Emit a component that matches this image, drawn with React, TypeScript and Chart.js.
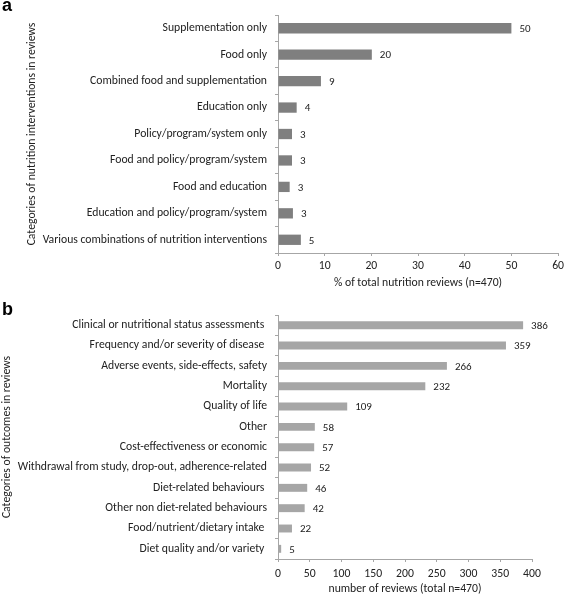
import React, { useEffect, useRef } from "react";
import { Chart, registerables } from "chart.js";

Chart.register(...registerables);

const categoriesA = [
  "Supplementation only",
  "Food only",
  "Combined food and supplementation",
  "Education only",
  "Policy/program/system only",
  "Food and policy/program/system",
  "Food and education",
  "Education and policy/program/system",
  "Various combinations of nutrition interventions",
];
const valuesA = [50, 20.1, 9.2, 4, 3, 3, 2.5, 3.2, 4.9];
const valueLabelsA = ["50", "20", "9", "4", "3", "3", "3", "3", "5"];

const categoriesB = [
  "Clinical or nutritional status assessments ",
  "Frequency and/or severity of disease ",
  "Adverse events, side-effects, safety",
  "Mortality",
  "Quality of life",
  "Other",
  "Cost-effectiveness or economic",
  "Withdrawal from study, drop-out, adherence-related",
  "Diet-related behaviours ",
  "Other non diet-related behaviours",
  "Food/nutrient/dietary intake ",
  "Diet quality and/or variety ",
];
const valuesB = [386, 359, 266, 232, 109, 58, 57, 52, 46, 42, 22, 5];
const valueLabelsB = valuesB.map((v) => String(v));

const FONT = "Carlito, Lato, 'Open Sans', sans-serif";
const FS = 11.7;
const AXIS_GRAY = "#a6a6a6";
const TEXT = "#222222";

type PanelProps = {
  width: number;
  height: number;
  categories: string[];
  values: number[];
  valueLabels: string[];
  color: string;
  xMax: number;
  xStep: number;
  xTitle: string;
  yTitle: string;
  padTop: number;
  padRight: number;
  yAxisWidth: number;
  xAxisHeight: number;
  yTitlePad: number;
  xTitlePad: number;
  xTickPad: number;
  barPct: number;
};

function Panel(p: PanelProps) {
  const ref = useRef<HTMLCanvasElement | null>(null);
  useEffect(() => {
    if (!ref.current) return;
    const labelPlugin = {
      id: "valueLabels",
      afterDatasetsDraw(chart: any) {
        const ctx = chart.ctx;
        const meta = chart.getDatasetMeta(0);
        ctx.save();
        ctx.font = `11px ${FONT}`;
        ctx.fillStyle = TEXT;
        ctx.textAlign = "left";
        ctx.textBaseline = "middle";
        meta.data.forEach((el: any, i: number) => {
          ctx.fillText(p.valueLabels[i], el.x + 8, el.y + 1);
        });
        ctx.restore();
      },
    };
    const chart = new Chart(ref.current, {
      type: "bar",
      data: {
        labels: p.categories,
        datasets: [
          {
            data: p.values,
            backgroundColor: p.color,
            borderWidth: 0,
            barPercentage: p.barPct,
            categoryPercentage: 1,
          },
        ],
      },
      options: {
        indexAxis: "y",
        responsive: false,
        animation: false,
        layout: { padding: { top: p.padTop, right: p.padRight, left: 0, bottom: 0 } },
        plugins: { legend: { display: false }, tooltip: { enabled: false } },
        scales: {
          x: {
            min: 0,
            max: p.xMax,
            ticks: { stepSize: p.xStep, color: TEXT, font: { family: FONT, size: FS }, padding: p.xTickPad },
            grid: { drawOnChartArea: false, drawTicks: true, tickLength: 3, color: AXIS_GRAY },
            border: { display: true, color: AXIS_GRAY },
            title: {
              display: true,
              text: p.xTitle,
              color: TEXT,
              font: { family: FONT, size: FS },
              padding: { top: 0, bottom: p.xTitlePad },
            },
            afterFit: (scale: any) => {
              scale.height = p.xAxisHeight;
            },
          },
          y: {
            ticks: { color: TEXT, font: { family: FONT, size: FS }, padding: 8, autoSkip: false },
            grid: { drawOnChartArea: false, drawTicks: true, tickLength: 3, color: AXIS_GRAY, offset: true },
            border: { display: true, color: AXIS_GRAY },
            title: {
              display: true,
              text: p.yTitle,
              color: TEXT,
              font: { family: FONT, size: FS },
              padding: { top: p.yTitlePad, bottom: 0 },
            },
            afterFit: (scale: any) => {
              scale.width = p.yAxisWidth;
            },
          },
        },
      } as any,
      plugins: [labelPlugin],
    });
    return () => chart.destroy();
  }, []);
  return <canvas ref={ref} width={p.width} height={p.height} style={{ display: "block" }} />;
}

export default function App() {
  const letterStyle: React.CSSProperties = {
    position: "absolute",
    left: 2,
    fontFamily: "'Liberation Sans', Arial, sans-serif",
    fontWeight: "bold",
    fontSize: 18,
    lineHeight: "18px",
    color: "#000",
  };
  return (
    <div style={{ position: "absolute", left: 0, top: 0, width: 567, height: 597, background: "#fff" }}>
      <div style={{ position: "absolute", left: 0, top: 0 }}>
        <Panel
          width={567}
          height={300}
          categories={categoriesA}
          values={valuesA}
          valueLabels={valueLabelsA}
          color="#7f7f7f"
          xMax={60}
          xStep={10}
          xTitle="% of total nutrition reviews (n=470)"
          yTitle="Categories of nutrition interventions in reviews"
          padTop={7}
          padRight={6}
          yAxisWidth={278}
          xAxisHeight={47}
          yTitlePad={25}
          xTitlePad={10}
          xTickPad={3}
          barPct={0.39}
        />
      </div>
      <div style={{ position: "absolute", left: 0, top: 300 }}>
        <Panel
          width={567}
          height={297}
          categories={categoriesB}
          values={valuesB}
          valueLabels={valueLabelsB}
          color="#a6a6a6"
          xMax={400}
          xStep={50}
          xTitle="number of reviews (total n=470)"
          yTitle="Categories of outcomes in reviews"
          padTop={14}
          padRight={35}
          yAxisWidth={278}
          xAxisHeight={38}
          yTitlePad={0}
          xTitlePad={1}
          xTickPad={5}
          barPct={0.39}
        />
      </div>
      <div style={{ ...letterStyle, top: -4 }}>a</div>
      <div style={{ ...letterStyle, top: 300 }}>b</div>
    </div>
  );
}
